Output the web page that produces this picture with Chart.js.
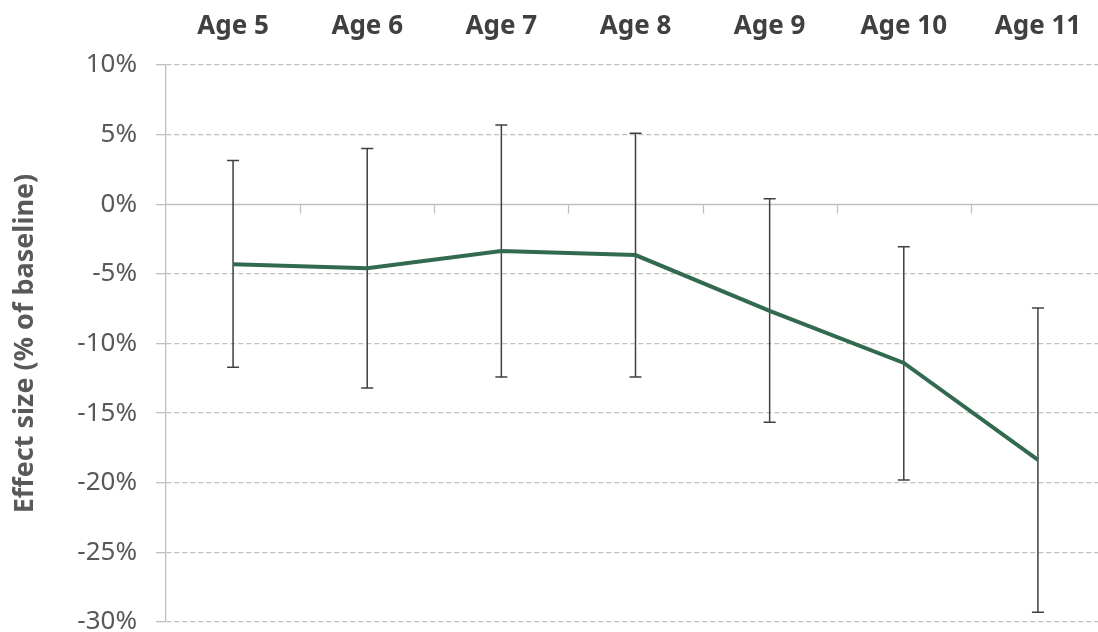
<!DOCTYPE html>
<html>
<head>
<meta charset="utf-8">
<script src="https://cdn.jsdelivr.net/npm/chart.js@4"></script>
<style>
  html, body { margin: 0; padding: 0; background: #fff; overflow: hidden; }
  #wrap { width: 1106px; height: 632px; }
</style>
</head>
<body>
<div id="wrap"><canvas id="effectChart" width="1106" height="632"></canvas></div>
<script>
// Data
const ages = ['Age 5', 'Age 6', 'Age 7', 'Age 8', 'Age 9', 'Age 10', 'Age 11'];
const effect = [-4.3, -4.6, -3.35, -3.65, -7.65, -11.4, -18.35];
const upperCI = [3.15, 4.0, 5.7, 5.1, 0.4, -3.05, -7.45];
const lowerCI = [-11.7, -13.2, -12.4, -12.4, -15.65, -19.8, -29.3];
const yTicks = [-30, -25, -20, -15, -10, -5, 0, 5, 10];

const gridGrey = '#bfbfbf';
const FONT = '"Noto Sans", "Open Sans", sans-serif';

// error bars, drawn under the line
const errorBars = {
  id: 'errorBars',
  beforeDatasetsDraw(chart) {
    const ctx = chart.ctx;
    const x = chart.scales.x, y = chart.scales.y;
    ctx.save();
    ctx.strokeStyle = '#404040';
    ctx.lineWidth = 1.5;
    ages.forEach((a, i) => {
      const px = x.getPixelForValue(i);
      const top = y.getPixelForValue(upperCI[i]);
      const bot = y.getPixelForValue(lowerCI[i]);
      ctx.beginPath();
      ctx.moveTo(px, top); ctx.lineTo(px, bot);
      ctx.moveTo(px - 6, top); ctx.lineTo(px + 6, top);
      ctx.moveTo(px - 6, bot); ctx.lineTo(px + 6, bot);
      ctx.stroke();
    });
    ctx.restore();
  }
};

// solid zero line with tick marks between categories
const zeroAxis = {
  id: 'zeroAxis',
  beforeDatasetsDraw(chart) {
    const ctx = chart.ctx;
    const x = chart.scales.x, y = chart.scales.y;
    const y0 = Math.round(y.getPixelForValue(0)) + 0.5;
    ctx.save();
    ctx.strokeStyle = gridGrey;
    ctx.lineWidth = 1.3;
    ctx.beginPath();
    ctx.moveTo(chart.chartArea.left, y0);
    ctx.lineTo(chart.chartArea.right, y0);
    for (let i = 0; i < ages.length; i++) {
      const bx = Math.round(x.getPixelForValue(i + 0.5)) + 0.5;
      ctx.moveTo(bx, y0);
      ctx.lineTo(bx, y0 + 9);
    }
    ctx.stroke();
    ctx.restore();
  }
};

const config = {
  type: 'line',
  data: {
    labels: ages,
    datasets: [{
      label: 'Effect size',
      data: effect,
      borderColor: '#316a4f',
      backgroundColor: '#316a4f',
      borderWidth: 4,
      pointRadius: 0,
      tension: 0
    }]
  },
  options: {
    responsive: false,
    animation: false,
    devicePixelRatio: 1,
    layout: { padding: { top: 0, right: 1, bottom: 0, left: 0 } },
    plugins: {
      legend: { display: false },
      tooltip: { enabled: false }
    },
    scales: {
      x: {
        position: 'top',
        offset: true,
        grid: { display: false, drawTicks: false },
        border: { display: false },
        ticks: {
          color: '#404040',
          padding: 23,
          maxRotation: 0,
          font: { family: FONT, size: 26, weight: 'bold' }
        },
        afterFit(scale) { scale.height = 65; }
      },
      y: {
        min: -30,
        max: 10,
        afterBuildTicks(scale) {
          scale.ticks = yTicks.map(v => ({ value: v }));
        },
        grid: {
          color: ctx => (ctx.tick && ctx.tick.value === 0) ? 'rgba(0,0,0,0)' : gridGrey,
          lineWidth: 1.3,
          tickLength: 10,
          tickColor: gridGrey,
          tickBorderDash: []
        },
        border: { display: true, color: gridGrey, width: 1.3, dash: [5, 3] },
        ticks: {
          color: '#595959',
          padding: 19,
          font: { family: FONT, size: 26 },
          callback: v => v + '%'
        },
        title: {
          display: true,
          text: 'Effect size (% of baseline)',
          color: '#595959',
          padding: { top: 9, bottom: 0 },
          font: { family: FONT, size: 27, weight: 'bold' }
        },
        afterFit(scale) {
          scale.width = 166;
          scale.paddingTop = 0;
          scale.paddingBottom = 10;
        }
      }
    }
  },
  plugins: [zeroAxis, errorBars]
};

const effectChart = new Chart(document.getElementById('effectChart'), config);
</script>
</body>
</html>
